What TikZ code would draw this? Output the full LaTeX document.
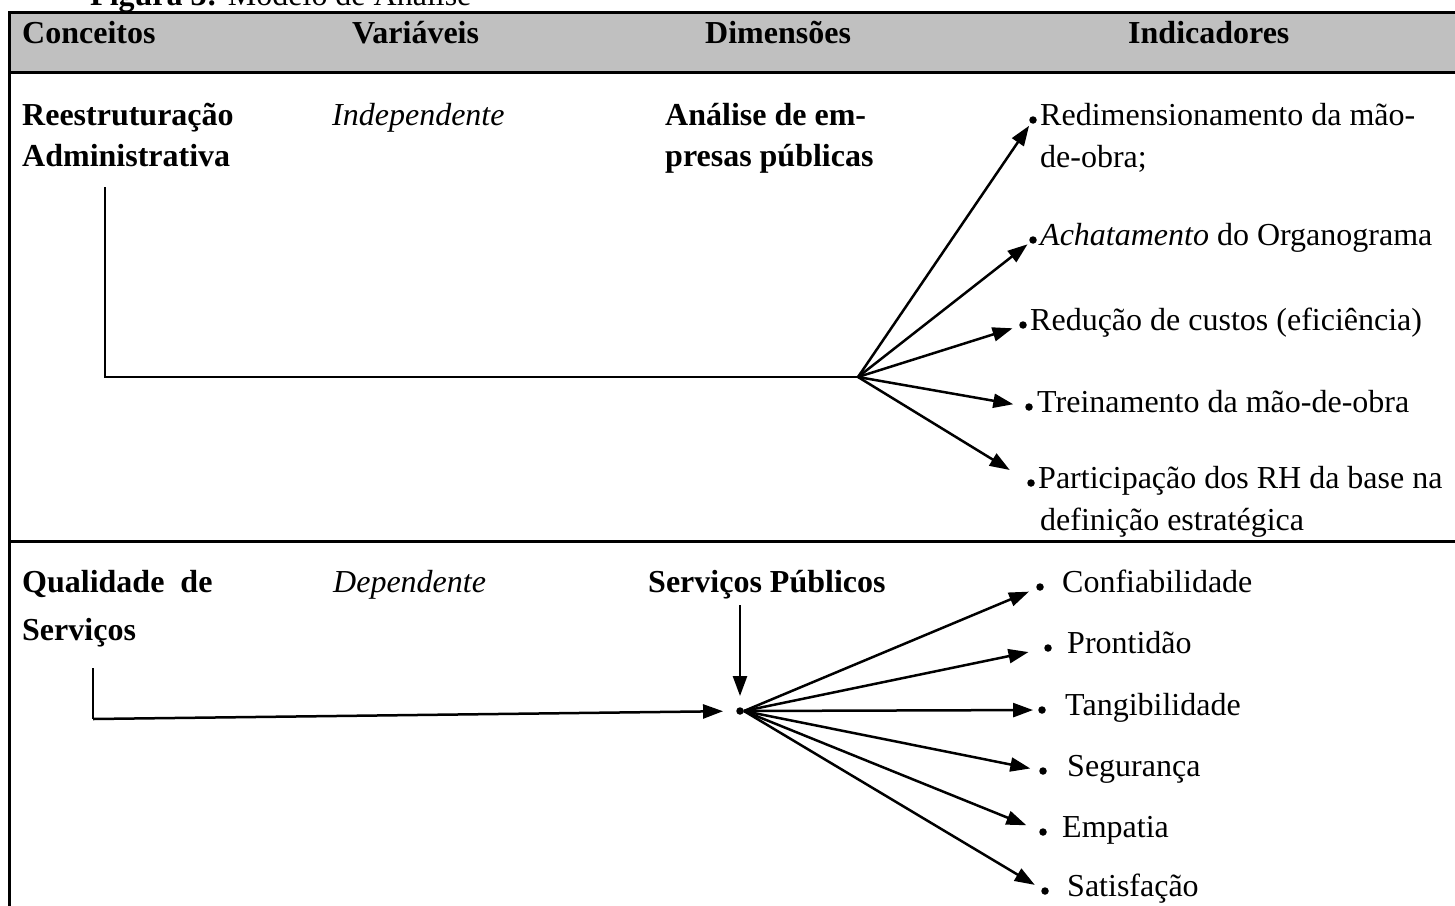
\documentclass[tikz,border=0pt]{standalone}
\usepackage{fontspec}
\setmainfont{Liberation Serif}
\usetikzlibrary{arrows.meta}
\definecolor{hdr}{RGB}{192,192,192}
\begin{document}
\begin{tikzpicture}[x=1pt,y=-1pt,
  txt/.style={anchor=base west,inner sep=0pt,font=\fontsize{32}{40}\selectfont},
  bld/.style={txt,font=\fontsize{32}{40}\selectfont\bfseries},
  itl/.style={txt,font=\fontsize{32}{40}\selectfont\itshape},
  bul/.style={circle,fill=black,inner sep=0pt,minimum size=7.5pt},
  frame/.style={line width=3pt},
  conn/.style={line width=2.5pt},
  arr/.style={conn,-{Triangle[length=20pt,width=14pt]}}]
\useasboundingbox (0,0) rectangle (1455,905);
\begin{scope}
\clip (0,0) rectangle (1455,905);
% table
\fill[hdr] (9,12) rectangle (1460,72);
\draw[frame] (1460,12) -- (9,12) -- (9,910);
\draw[frame] (9,72) -- (1460,72);
\draw[frame] (9,541) -- (1460,541);
% title
\node[txt] (title) at (90,5) {\textbf{Figura 3:} Modelo de Análise};
% header
\node[bld] (hC) at (22,43) {Conceitos};
\node[bld] (hV) at (352,43) {Variáveis};
\node[bld] (hD) at (705,43) {Dimensões};
\node[bld] (hI) at (1128,43) {Indicadores};
% row 1
\node[bld] (c1a) at (22,125) {Reestruturação};
\node[bld] (c1b) at (22,166) {Administrativa};
\node[itl] (v1) at (332,125) {Independente};
\node[bld] (d1a) at (665,125) {Análise de em-};
\node[bld] (d1b) at (665,166) {presas públicas};
\coordinate (s1) at (105,187);
\coordinate (k1) at (105,377);
\coordinate (hub1) at (858,377);
\draw[conn] (s1) -- (k1) -- (hub1);
\node[bul] (b1) at (1033,120) {};
\node[txt] (i1a) at (1040,125) {Redimensionamento da mão-};
\node[txt] (i1b) at (1040,167) {de-obra;};
\node[bul] (b2) at (1033,240) {};
\node[txt] (i2) at (1040,245) {\textit{Achatamento} do Organograma};
\node[bul] (b3) at (1023,325) {};
\node[txt] (i3) at (1030,330) {Redução de custos (eficiência)};
\node[bul] (b4) at (1029,407) {};
\node[txt] (i4) at (1037,412) {Treinamento da mão-de-obra};
\node[bul] (b5) at (1031,483) {};
\node[txt] (i5a) at (1038,488) {Participação dos RH da base na};
\node[txt] (i5b) at (1040,530) {definição estratégica};
\draw[arr,shorten >=3pt] (hub1) -- (b1);
\draw[arr,shorten >=3pt] (hub1) -- (b2);
\draw[arr,shorten >=7pt] (hub1) -- (b3);
\draw[arr,shorten >=12pt] (hub1) -- (b4);
\draw[arr,shorten >=21pt] (hub1) -- (b5);
% row 2
\node[bld] (c2a) at (22,592) {Qualidade\ \ de};
\node[bld] (c2b) at (22,640) {Serviços};
\node[itl] (v2) at (333,592) {Dependente};
\node[bld] (d2) at (648,592) {Serviços Públicos};
\node[bul] (dot) at (740,711) {};
\coordinate (s2) at (93,668);
\coordinate (k2) at (93,719);
\draw[conn] (s2) -- (k2);
\draw[arr,shorten >=13pt] (k2) -- (dot);
\coordinate (t2) at (740,605);
\draw[arr,shorten >=11pt] (t2) -- (dot);
\node[bul] (j1) at (1040,587) {};
\node[txt] (k1t) at (1062,592) {Confiabilidade};
\node[bul] (j2) at (1048,648) {};
\node[txt] (k2t) at (1067,653) {Prontidão};
\node[bul] (j3) at (1042,710) {};
\node[txt] (k3t) at (1065,715) {Tangibilidade};
\node[bul] (j4) at (1043,771) {};
\node[txt] (k4t) at (1067,776) {Segurança};
\node[bul] (j5) at (1043,832) {};
\node[txt] (k5t) at (1062,837) {Empatia};
\node[bul] (j6) at (1045,891) {};
\node[txt] (k6t) at (1067,896) {Satisfação};
\draw[arr,shorten >=8pt] (dot.east) -- (j1);
\draw[arr,shorten >=16pt] (dot.east) -- (j2);
\draw[arr,shorten >=5pt] (dot.east) -- (j3);
\draw[arr,shorten >=9pt] (dot.east) -- (j4);
\draw[arr,shorten >=14pt] (dot.east) -- (j5);
\draw[arr,shorten >=8pt] (dot.east) -- (j6);
\end{scope}
\end{tikzpicture}
\end{document}
